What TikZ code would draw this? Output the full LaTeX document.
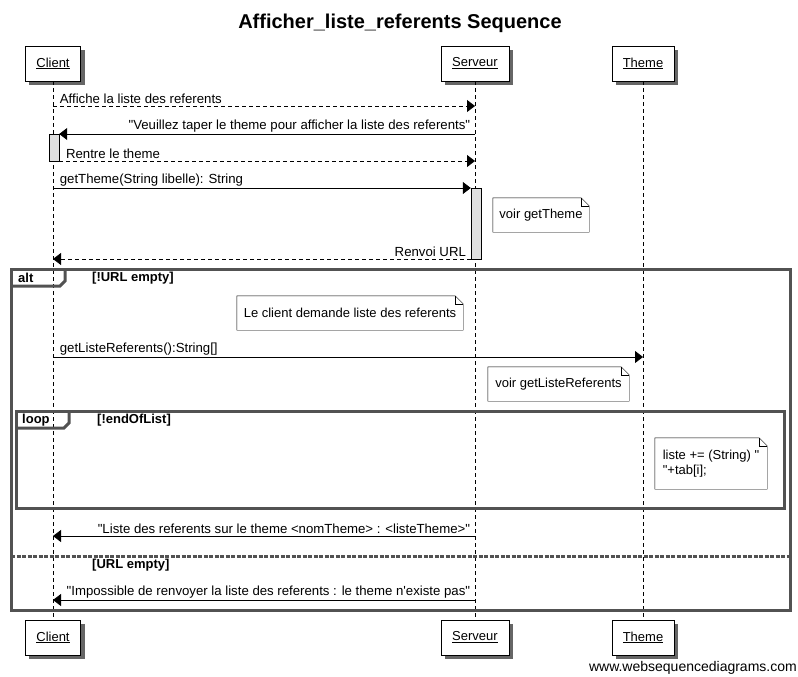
\documentclass[tikz,border=0pt]{standalone}
\usepackage{fontspec}
\setmainfont{Liberation Sans}[Ligatures=TeXOff]
\usetikzlibrary{positioning,calc,arrows.meta,shadows}

\newcommand{\notefold}[1]{%
  \draw (#1.north west) -- ([xshift=-8pt]#1.north east) -- ([yshift=-8pt]#1.north east)
    -- (#1.south east) -- (#1.south west) -- cycle;
  \draw ([xshift=-8pt]#1.north east) |- ([yshift=-8pt]#1.north east);
}

\begin{document}
\begin{tikzpicture}[x=1pt, y=-1pt,
    actor/.style={rectangle, draw, fill=white, minimum height=35pt, inner xsep=11pt,
      font=\fontsize{13}{15}\selectfont,
      drop shadow={shadow xshift=4pt, shadow yshift=-4pt, fill=black!60, opacity=1}},
    activ/.style={rectangle, draw, fill=black!12, minimum width=10pt, inner sep=0pt},
    note/.style={rectangle, fill=white, font=\fontsize{13}{15}\selectfont, align=left},
    msg/.style={-{Triangle[length=8pt, width=12pt]}, line width=0.8pt},
    reply/.style={msg, dash pattern=on 4pt off 3pt},
    lbl/.style={font=\fontsize{13.2}{15}\selectfont, inner sep=1.5pt},
    lifeline/.style={dash pattern=on 4pt off 3pt, line width=0.7pt},
    frame/.style={draw=black!68, line width=3pt},
    guard/.style={font=\fontsize{13}{15}\selectfont\bfseries, anchor=west, inner sep=0pt}
]
    \useasboundingbox (0,0) rectangle (798,677);

    % Title
    \node[font=\fontsize{20}{22}\selectfont\bfseries] (title) at (400,23) {Afficher\_liste\_referents Sequence};

    % Actors
    \node[actor] (client) at (53,63.5) {\underline{Client}};
    \node[actor] (serveur) at (475,63.5) {\underline{Serveur}};
    \node[actor] (theme) at (643,63.5) {\underline{Theme}};
    \node[actor] (clientb) at (53,637.5) {\underline{Client}};
    \node[actor] (serveurb) at (475,637.5) {\underline{Serveur}};
    \node[actor] (themeb) at (643,637.5) {\underline{Theme}};

    \draw[lifeline] (client) -- (clientb);
    \draw[lifeline] (serveur) -- (serveurb);
    \draw[lifeline] (theme) -- (themeb);

    % points on the lifelines
    \foreach \y/\n in {106/1, 134/2, 161/3, 188/4, 259/5, 357/6, 536/7, 600/8} {
        \coordinate (c\n) at (53,\y);
        \coordinate (s\n) at (475,\y);
        \coordinate (t\n) at (643,\y);
    }

    % Activations
    \node[activ, minimum height=27pt] (actc) at (54,147.5) {};
    \node[activ, minimum height=71pt] (acts) at (476,223.5) {};

    % Messages
    \draw[reply] (c1) -- (s1) node[lbl, pos=0, anchor=south west, xshift=5pt] {Affiche la liste des referents};
    \draw[msg] (s2) -- (s2 -| actc.east) node[lbl, pos=0, anchor=south east, xshift=-3pt] {"Veuillez taper le theme pour afficher la liste des referents"};
    \draw[reply] (c3 -| actc.east) -- (s3) node[lbl, pos=0, anchor=south west, xshift=5pt] {Rentre le theme};
    \draw[msg] (c4) -- (s4 -| acts.west) node[lbl, pos=0, anchor=south west, xshift=5pt] {getTheme(String libelle): String};
    \draw[reply] (s5 -| acts.west) -- (c5) node[lbl, pos=0, anchor=south east, xshift=-3pt] {Renvoi URL};

    \node[note, minimum width=96pt, minimum height=34pt] (n1) at (541,215) {voir getTheme};
    \notefold{n1}

    % alt
    \draw[frame] (11,269) rectangle (790,610);
    \draw[frame] (11,286) -- (60,286) -- (65,281) -- (65,269);
    \node[guard] (altlbl) at (18,278) {alt};
    \node[guard] (g1) at (92,278) {[!URL empty]};

    \node[note, minimum width=226pt, minimum height=34pt] (n2) at (350,313) {Le client demande liste des referents};
    \notefold{n2}

    \draw[msg] (c6) -- (t6) node[lbl, pos=0, anchor=south west, xshift=5pt] {getListeReferents():String[]};

    \node[note, minimum width=141pt, minimum height=34pt] (n3) at (558.5,384) {voir getListeReferents};
    \notefold{n3}

    % loop
    \draw[frame] (16,411) rectangle (784,508);
    \draw[frame] (16,428) -- (64,428) -- (69,423) -- (69,411);
    \node[guard] (looplbl) at (22,420) {loop};
    \node[guard] (g2) at (97,420) {[!endOfList]};

    \node[note, minimum width=112pt, minimum height=51pt] (n4) at (711,463.5) {liste += (String) "\\"+tab[i];};
    \notefold{n4}

    \draw[msg] (s7) -- (c7) node[lbl, pos=0, anchor=south east, xshift=-3pt] {"Liste des referents sur le theme <nomTheme> : <listeTheme>"};

    % else
    \draw[draw=black!68, line width=3pt, dash pattern=on 4pt off 1.5pt] (11,556) -- (790,556);
    \node[guard] (g3) at (92,565) {[URL empty]};

    \draw[msg] (s8) -- (c8) node[lbl, pos=0, anchor=south east, xshift=-3pt] {"Impossible de renvoyer la liste des referents : le theme n'existe pas"};

    \node[font=\fontsize{14}{16}\selectfont, anchor=east, inner sep=0pt] (wsd) at (797,668) {www.websequencediagrams.com};
\end{tikzpicture}
\end{document}
